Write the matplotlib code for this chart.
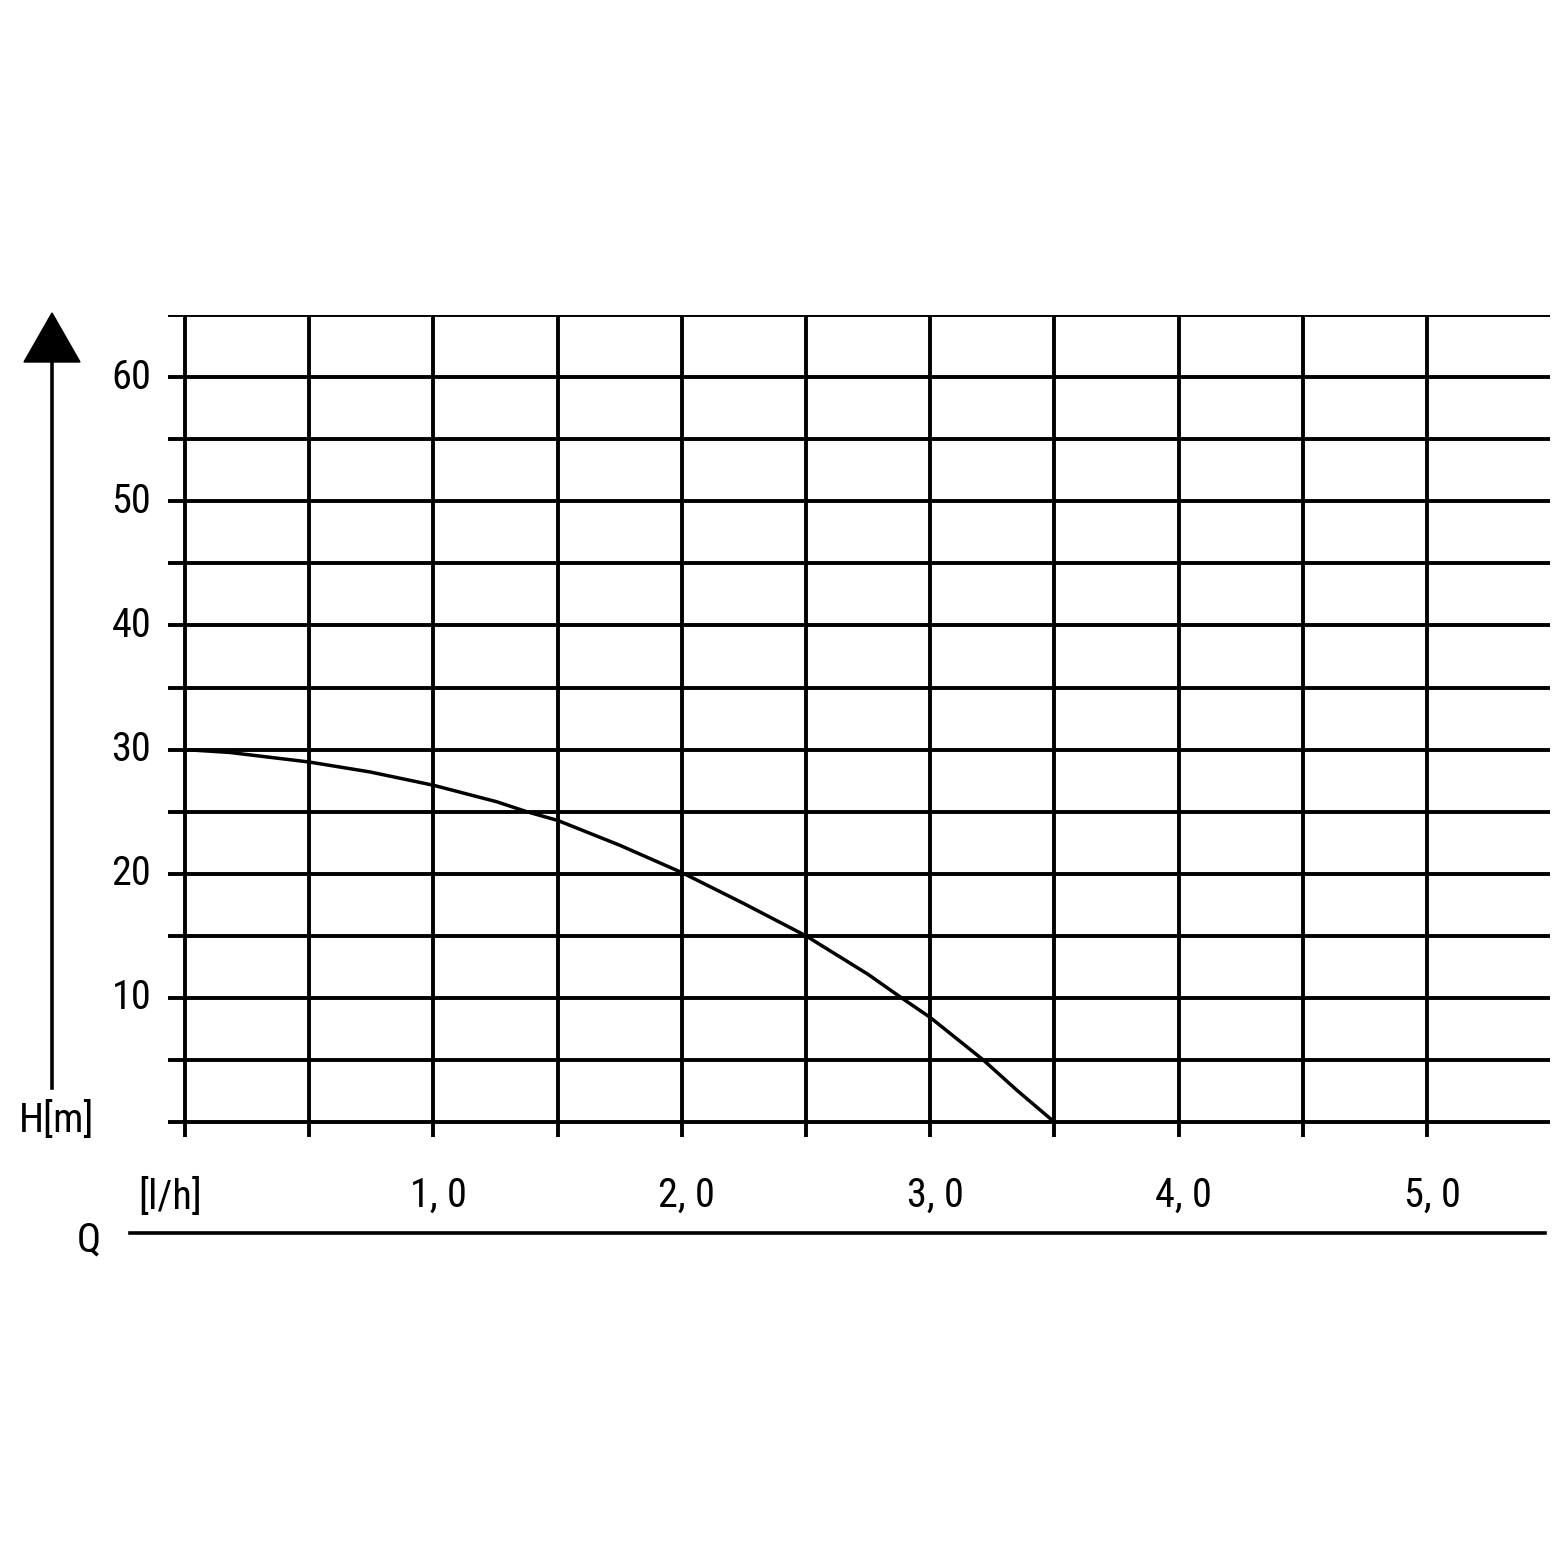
import matplotlib
matplotlib.use("Agg")
import matplotlib.pyplot as plt
from matplotlib.patches import Polygon
from matplotlib.lines import Line2D
from matplotlib import font_manager

# ---- data ----
flow_q = [0.0, 0.18, 0.5, 0.745, 1.0, 1.255, 1.376, 1.5, 1.75, 2.0, 2.25, 2.5, 2.75, 2.885, 3.0, 3.214, 3.35, 3.5]
head_h = [30.0, 29.77, 29.0, 28.2, 27.13, 25.8, 25.0, 24.3, 22.3, 20.1, 17.6, 15.0, 11.9, 10.0, 8.43, 5.0, 2.55, 0.0]

y_grid = list(range(0, 70, 5))
x_grid = [0.0, 0.5, 1.0, 1.5, 2.0, 2.5, 3.0, 3.5, 4.0, 4.5, 5.0]
y_tick_vals = [10, 20, 30, 40, 50, 60]
y_tick_labels = ["10", "20", "30", "40", "50", "60"]
x_tick_vals = [1.0, 2.0, 3.0, 4.0, 5.0]
x_tick_labels = ["1, 0", "2, 0", "3, 0", "4, 0", "5, 0"]

names = {f.name for f in font_manager.fontManager.ttflist}
cands = ["Liberation Sans Narrow", "DejaVu Sans Condensed", "Roboto Condensed", "Open Sans Condensed"]
FONT = [c for c in cands if c in names] + ["DejaVu Sans"]
FS = 29 if FONT[0] != "DejaVu Sans" else 25
STRETCH = "condensed"

W, H = 1560, 1561
fig = plt.figure(figsize=(W / 100, H / 100), dpi=100)
fig.patch.set_facecolor("white")

def fx(px):
    return px / W

def fy(py):
    return 1 - py / H

left, right, top, bottom = 168, 1550, 315, 1137
ax = fig.add_axes([fx(left), fy(bottom), fx(right) - fx(left), fy(top) - fy(bottom)])
ax.set_xlim(-0.068, 5.495)
ax.set_ylim(-1.2, 65)
ax.axis("off")

lw = 2.8
for yv in y_grid:
    ax.axhline(yv, color="black", lw=lw, solid_capstyle="butt")
for xv in x_grid:
    ax.axvline(xv, color="black", lw=lw, solid_capstyle="butt")

ax.plot(flow_q, head_h, color="black", lw=2.5, solid_capstyle="butt", solid_joinstyle="round")

tkw = dict(fontsize=FS, family=FONT, fontstretch=STRETCH)
for v, lab in zip(y_tick_vals, y_tick_labels):
    ax.text(-0.135, v, lab, ha="right", va="center", clip_on=False, **tkw)

for v, lab in zip(x_tick_vals, x_tick_labels):
    fig.text(fx(185 + v * 248.4 + 5), fy(1195), lab, ha="center", va="center", **tkw)

fig.text(fx(170), fy(1197), "[l/h]", ha="center", va="center", **tkw)
fig.text(fx(89), fy(1240), "Q", ha="center", va="center", **tkw)
fig.add_artist(Line2D([fx(130), fx(1545)], [fy(1233), fy(1233)], color="black", lw=2.6,
                      transform=fig.transFigure))

fig.add_artist(Line2D([fx(52), fx(52)], [fy(360), fy(1088)], color="black", lw=2.6,
                      transform=fig.transFigure))
fig.add_artist(Polygon([[fx(24), fy(362)], [fx(80), fy(362)], [fx(52), fy(313)]],
                       closed=True, color="black", transform=fig.transFigure))
fig.text(fx(57), fy(1120), "H[m]", ha="center", va="center", **tkw)

fig.savefig("out.png", dpi=100, facecolor="white")
